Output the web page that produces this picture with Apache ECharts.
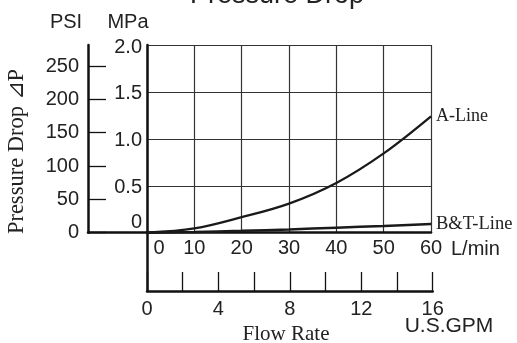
<!DOCTYPE html>
<html>
<head>
<meta charset="utf-8">
<script src="https://cdn.jsdelivr.net/npm/echarts@6/dist/echarts.min.js"></script>
<style>html,body{margin:0;padding:0;background:#fff;}#c{width:517px;height:343px;}</style>
</head>
<body>
<div id="c"></div>
<script>
// Data
var FLOW_LMIN = [0, 10, 20, 30, 40, 50, 60];
var A_LINE_MPA = [0, 0.045, 0.165, 0.31, 0.53, 0.845, 1.24];
var BT_LINE_MPA = [0, 0.008, 0.02, 0.035, 0.053, 0.072, 0.093];
var PSI_TICKS = [0, 50, 100, 150, 200, 250];
var MPA_TICKS = [0, 0.5, 1.0, 1.5, 2.0];
var GPM_LABELS = [0, 4, 8, 12, 16];
var SERIES_NAMES = ['A-Line', 'B&T-Line'];

var SANS = '"Liberation Sans", Arial, Helvetica, sans-serif';
var SERIF = '"Liberation Serif", "Times New Roman", "DejaVu Serif", serif';
var INK = '#1a1a1a';
var GRIDC = '#333';

function pairs(xs, ys) { return xs.map(function (x, i) { return [x, ys[i]]; }); }

var chart = echarts.init(document.getElementById('c'), null, { renderer: 'canvas' });

var axisLineStyle = { show: true, onZero: false, lineStyle: { color: '#111', width: 2.5 } };

var option = {
  animation: false,
  backgroundColor: '#fff',
  grid: [
    { left: 147, top: 45, width: 284, height: 187.7 },
    { left: 147, top: 232.7, width: 285.7, height: 58.3 },
    { left: 88, top: 45, width: 59, height: 187.7 }
  ],
  xAxis: [
    {
      gridIndex: 0, type: 'value', min: 0, max: 60, interval: 10,
      axisLine: axisLineStyle, axisTick: { show: false },
      axisLabel: {
        margin: 6, fontSize: 20, fontFamily: SANS, color: '#222',
        formatter: function (v) { return v === 0 ? '{z|0}' : String(v); },
        rich: { z: { fontSize: 20, fontFamily: SANS, color: '#222', padding: [0, 0, 0, 24] } }
      },
      splitLine: { show: true, lineStyle: { color: GRIDC, width: 1.2 } },
      name: 'L/min', nameLocation: 'end', nameGap: 20,
      nameTextStyle: { fontSize: 20, fontFamily: SANS, color: '#222', verticalAlign: 'top', padding: [7, 0, 0, 0] }
    },
    {
      gridIndex: 1, type: 'value', min: 0, max: 16, interval: 2, position: 'bottom',
      axisLine: axisLineStyle,
      axisTick: { show: true, inside: true, length: 19, lineStyle: { color: '#111', width: 1.3 } },
      axisLabel: {
        margin: 8, fontSize: 20, fontFamily: SANS, color: '#222',
        formatter: function (v) { return GPM_LABELS.indexOf(v) >= 0 ? String(v) : ''; }
      },
      splitLine: { show: false }
    },
    {
      gridIndex: 2, type: 'value', min: 0, max: 1, position: 'bottom',
      axisLine: axisLineStyle, axisTick: { show: false }, axisLabel: { show: false }, splitLine: { show: false }
    }
  ],
  yAxis: [
    {
      gridIndex: 0, type: 'value', min: 0, max: 2, interval: 0.5,
      axisLine: axisLineStyle, axisTick: { show: false },
      axisLabel: {
        margin: 5, fontSize: 20, fontFamily: SANS, color: '#222',
        formatter: function (v) { return v === 0 ? '{z|0}' : '{n|' + v.toFixed(1) + '}'; },
        rich: {
          z: { fontSize: 20, fontFamily: SANS, color: '#222', padding: [0, 0, 20, 0] },
          n: { fontSize: 20, fontFamily: SANS, color: '#222', padding: [4, 0, 0, 0] }
        }
      },
      splitLine: { show: true, lineStyle: { color: GRIDC, width: 1.2 } }
    },
    {
      gridIndex: 1, type: 'value', min: 0, max: 1,
      axisLine: axisLineStyle, axisTick: { show: false }, axisLabel: { show: false }, splitLine: { show: false }
    },
    {
      gridIndex: 2, type: 'value', min: 0, max: 281.5,
      axisLine: axisLineStyle,
      axisTick: { show: true, inside: true, length: 18, customValues: PSI_TICKS, lineStyle: { color: '#111', width: 1.3 } },
      axisLabel: { margin: 9, fontSize: 20, fontFamily: SANS, color: '#222', customValues: PSI_TICKS },
      splitLine: { show: false }
    }
  ],
  series: [
    {
      name: SERIES_NAMES[0], type: 'line', xAxisIndex: 0, yAxisIndex: 0,
      data: pairs(FLOW_LMIN, A_LINE_MPA), smooth: 0.35,
      showSymbol: false, symbol: 'none', lineStyle: { color: INK, width: 2.3 },
      endLabel: { show: true, formatter: SERIES_NAMES[0], distance: 5, fontSize: 18, fontFamily: SERIF, color: '#222' }
    },
    {
      name: SERIES_NAMES[1], type: 'line', xAxisIndex: 0, yAxisIndex: 0,
      data: pairs(FLOW_LMIN, BT_LINE_MPA), smooth: 0.35,
      showSymbol: false, symbol: 'none', lineStyle: { color: INK, width: 2.5 },
      endLabel: { show: true, formatter: SERIES_NAMES[1], distance: 5, fontSize: 18.5, fontFamily: SERIF, color: '#222' }
    }
  ],
  graphic: [
    { type: 'text', x: 277, y: -4.5, style: { text: 'Pressure Drop', font: '27px ' + SANS, fill: '#222', textAlign: 'center', textVerticalAlign: 'middle' } },
    { type: 'text', x: 66, y: 22, style: { text: 'PSI', font: '20px ' + SANS, fill: '#222', textAlign: 'center', textVerticalAlign: 'middle' } },
    { type: 'text', x: 128, y: 22, style: { text: 'MPa', font: '20px ' + SANS, fill: '#222', textAlign: 'center', textVerticalAlign: 'middle' } },
    { type: 'text', x: 17, y: 151.5, rotation: Math.PI / 2, style: { text: 'Pressure Drop ⊿P', font: '22.5px ' + SERIF, fill: '#222', textAlign: 'center', textVerticalAlign: 'middle' } },
    { type: 'text', x: 286, y: 334, style: { text: 'Flow Rate', font: '21px ' + SERIF, fill: '#222', textAlign: 'center', textVerticalAlign: 'middle' } },
    { type: 'text', x: 449, y: 326.5, style: { text: 'U.S.GPM', font: '21px ' + SANS, fill: '#222', textAlign: 'center', textVerticalAlign: 'middle' } }
  ]
};
chart.setOption(option);
</script>
</body>
</html>
